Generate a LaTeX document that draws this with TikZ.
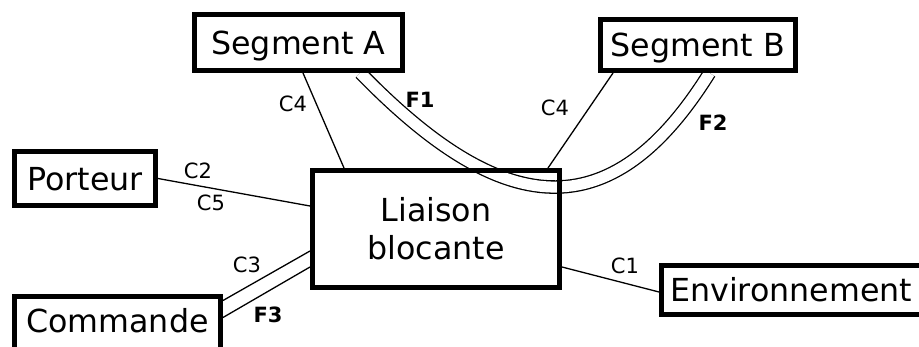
\documentclass[tikz,border=0pt]{standalone}
\usepackage{fontspec}
\setmainfont{DejaVu Sans}
\pgfdeclarelayer{background}
\pgfsetlayers{background,main}
\begin{document}
\begin{tikzpicture}[x=1pt,y=-1pt,
  box/.style={draw, line width=5pt, inner sep=0pt, text height=23.1pt, text depth=0pt,
    font=\fontsize{31.7}{37.5}\selectfont, align=center},
  lbl/.style={inner sep=0pt, font=\fontsize{21}{25}\selectfont},
  blbl/.style={inner sep=0pt, font=\fontsize{21}{25}\selectfont\bfseries},
  thinline/.style={line width=1.3pt},
  flux/.style={line width=1.3pt, double, double distance=11pt}]
\useasboundingbox (0,0) rectangle (919,347);
% boxes
\node[box, minimum width=208pt, minimum height=56pt] (segA) at (298.5,42.5) {Segment A};
\node[box, minimum width=195pt, minimum height=51pt] (segB) at (698,45) {Segment B};
\node[box, minimum width=141pt, minimum height=54pt] (port) at (85,178.5) {Porteur};
\node[box, minimum width=206pt, minimum height=56pt, text depth=8pt] (cmd) at (117.5,325) {Commande};
\node[box, minimum width=247pt, minimum height=117pt, text height=60.6pt] (liaison) at (436,229) {Liaison\\blocante};
\node[box, minimum width=259.5pt, minimum height=49pt] (env) at (791.25,290) {Environnement};
% connectors
\begin{pgfonlayer}{background}
\draw[flux] ([xshift=62pt]segA.south) .. controls +(140.5,144.5) and +(-99.5,159.5) .. ([xshift=11.5pt]segB.south);
\draw[thinline] ([xshift=4.5pt]segA.south) -- ([xshift=-92pt]liaison.north);
\draw[thinline] ([xshift=-85pt]segB.south) -- ([xshift=112pt]liaison.north);
\draw[thinline] (port.east) -- ([yshift=23pt]liaison.west);
\draw[thinline] ([yshift=-6pt]cmd.north east) -- ([yshift=-22pt]liaison.west);
\draw[thinline] ([yshift=-23pt]cmd.north east) -- ([yshift=-38pt]liaison.west);
\draw[thinline] ([yshift=-38pt]liaison.east) -- ([yshift=-2pt]env.west);
\end{pgfonlayer}
% labels
\node[lbl] (lC4a) at (293,104) {C4};
\node[lbl] (lC4b) at (555,108) {C4};
\node[blbl] (lF1) at (420,100) {F1};
\node[blbl] (lF2) at (713,123) {F2};
\node[lbl] (lC2) at (198,171) {C2};
\node[lbl] (lC5) at (211,203) {C5};
\node[lbl] (lC3) at (247,265) {C3};
\node[blbl] (lF3) at (268,315) {F3};
\node[lbl] (lC1) at (625,266) {C1};
\end{tikzpicture}
\end{document}
